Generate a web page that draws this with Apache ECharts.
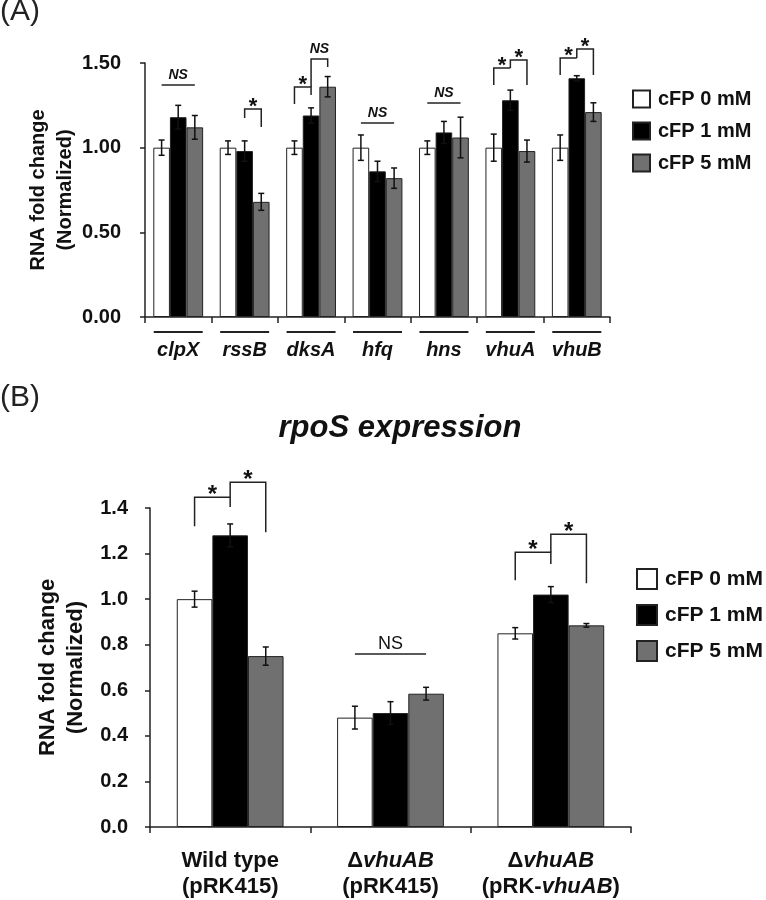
<!DOCTYPE html>
<html>
<head>
<meta charset="utf-8">
<title>rpoS expression</title>
<script src="https://cdn.jsdelivr.net/npm/echarts@6/dist/echarts.min.js"></script>
<style>
  html, body { margin: 0; padding: 0; background: #fff; }
  #main { width: 766px; height: 900px; }
</style>
</head>
<body>
<div id="main"></div>
<script>
// ---- panel A data ----
var genes = ['clpX', 'rssB', 'dksA', 'hfq', 'hns', 'vhuA', 'vhuB'];
var a0 = [1.00, 1.00, 1.00, 1.00, 1.00, 1.00, 1.00];
var a0err = [0.045, 0.04, 0.04, 0.075, 0.04, 0.08, 0.075];
var a1 = [1.18, 0.98, 1.19, 0.86, 1.09, 1.28, 1.41];
var a1err = [0.07, 0.06, 0.045, 0.06, 0.065, 0.06, 0.015];
var a2 = [1.12, 0.68, 1.36, 0.82, 1.06, 0.98, 1.21];
var a2err = [0.07, 0.05, 0.06, 0.06, 0.12, 0.065, 0.055];

// ---- panel B data ----
var strains = ['wt', 'dvhuAB', 'comp'];
var b0 = [1.00, 0.48, 0.85];
var b0err = [0.035, 0.05, 0.025];
var b1 = [1.28, 0.50, 1.02];
var b1err = [0.05, 0.05, 0.035];
var b2 = [0.75, 0.585, 0.885];
var b2err = [0.04, 0.028, 0.008];

var doses = ['cFP 0 mM', 'cFP 1 mM', 'cFP 5 mM'];

// significance marks: [category, from bar, to bar, left foot, top, right foot]
var bracketsA = [
  [0, 0, 2, 1.37, 1.37, 1.37],
  [1, 1, 2, 1.175, 1.229, 1.122],
  [2, 0, 1, 1.258, 1.358, 1.311],
  [2, 1, 2, 1.358, 1.524, 1.477],
  [3, 0, 2, 1.146, 1.146, 1.146],
  [4, 0, 2, 1.264, 1.264, 1.264],
  [5, 0, 1, 1.37, 1.471, 1.471],
  [5, 1, 2, 1.471, 1.518, 1.37],
  [6, 0, 1, 1.429, 1.53, 1.53],
  [6, 1, 2, 1.53, 1.583, 1.429]
];
var marksA = ['NS', '*', '*', 'NS', 'NS', 'NS', '*', '*', '*', '*'];

var bracketsB = [
  [0, 0, 1, 1.32, 1.447, 1.404],
  [0, 1, 2, 1.447, 1.513, 1.294],
  [1, 0, 2, 0.759, 0.759, 0.759],
  [2, 0, 1, 1.083, 1.206, 1.154],
  [2, 1, 2, 1.206, 1.285, 1.07]
];
var marksB = ['*', '*', 'NS', '*', '*'];

var FONT = 'Liberation Sans, Arial, sans-serif';
var colors = ['#ffffff', '#000000', '#707070'];
var fracA = 0.25, fracB = 0.222;

function errData(vals, errs, k) {
  return vals.map(function (v, i) { return [i, v, errs[i], k]; });
}

function errRender(frac) {
  return function (params, api) {
    var c = api.value(0), v = api.value(1), e = api.value(2), k = api.value(3);
    var w = api.size([1, 0])[0];
    var x = api.coord([c, v])[0] + (k - 1) * w * frac;
    var yt = api.coord([c, v + e])[1];
    var yb = api.coord([c, v - e])[1];
    var st = { stroke: '#111', lineWidth: 1.5 };
    return {
      type: 'group',
      children: [
        { type: 'line', shape: { x1: x, y1: yt, x2: x, y2: yb }, style: st },
        { type: 'line', shape: { x1: x - 3, y1: yt, x2: x + 3, y2: yt }, style: st },
        { type: 'line', shape: { x1: x - 3, y1: yb, x2: x + 3, y2: yb }, style: st }
      ]
    };
  };
}

function bracketRender(frac, marks, nsFont, starFont) {
  return function (params, api) {
    var c = api.value(0), bl = api.value(1), br = api.value(2);
    var w = api.size([1, 0])[0];
    var xc = api.coord([c, 0])[0];
    var xl = xc + (bl - 1) * w * frac;
    var xr = xc + (br - 1) * w * frac;
    var yl = api.coord([c, api.value(3)])[1];
    var yt = api.coord([c, api.value(4)])[1];
    var yr = api.coord([c, api.value(5)])[1];
    var m = marks[params.dataIndex];
    var isStar = m === '*';
    return {
      type: 'group',
      children: [
        {
          type: 'polyline',
          shape: { points: [[xl, yl], [xl, yt], [xr, yt], [xr, yr]] },
          style: { stroke: '#222', lineWidth: 1.5, fill: null }
        },
        {
          type: 'text',
          x: (xl + xr) / 2,
          y: isStar ? yt - 2 : yt - 10,
          style: {
            text: m,
            align: 'center',
            verticalAlign: 'middle',
            font: isStar ? starFont : nsFont,
            fill: '#111'
          }
        }
      ]
    };
  };
}

function barSeries(name, data, color, xi) {
  return {
    name: name,
    type: 'bar',
    xAxisIndex: xi,
    yAxisIndex: xi,
    data: data,
    barWidth: xi === 0 ? '25%' : '22.2%',
    barGap: '0%',
    itemStyle: { color: color, borderColor: '#222', borderWidth: 1 },
    emphasis: { disabled: true }
  };
}

var chart = echarts.init(document.getElementById('main'), null, { renderer: 'canvas' });

var option = {
  animation: false,
  backgroundColor: '#fff',
  textStyle: { fontFamily: FONT, color: '#111' },
  graphic: [
    { type: 'text', left: 0, top: -3, style: { text: '(A)', font: '30px ' + FONT, fill: '#222' } },
    { type: 'text', left: 0, top: 383, style: { text: '(B)', font: '30px ' + FONT, fill: '#222' } },
    { type: 'text', x: 400, y: 428, style: { text: 'rpoS expression', font: 'italic bold 31px ' + FONT, fill: '#111', align: 'center', verticalAlign: 'middle' } }
  ],
  legend: [
    {
      data: doses, orient: 'vertical', left: 627, top: 84,
      itemWidth: 17, itemHeight: 17, itemGap: 12, icon: 'rect',
      textStyle: { fontSize: 20, fontWeight: 'bold', lineHeight: 20, color: '#111', padding: [0, 0, 0, 3] }
    },
    {
      data: doses, orient: 'vertical', left: 631, top: 563,
      itemWidth: 20, itemHeight: 20, itemGap: 14, icon: 'rect',
      textStyle: { fontSize: 21, fontWeight: 'bold', lineHeight: 22, color: '#111', padding: [0, 0, 0, 3] }
    }
  ],
  grid: [
    { left: 145, top: 63, width: 465, height: 254 },
    { left: 150, top: 508, width: 481, height: 319 }
  ],
  xAxis: [
    {
      type: 'category', gridIndex: 0, data: genes,
      axisLine: { lineStyle: { color: '#222', width: 1.5 } },
      axisTick: { show: true, length: 6, lineStyle: { color: '#222', width: 1.5 } },
      axisLabel: {
        margin: 14,
        formatter: function (v) { return '{u|}\n{t|' + v + '}'; },
        rich: {
          u: { width: 49, height: 2, lineHeight: 2, backgroundColor: '#222' },
          t: { fontSize: 20, fontWeight: 'bold', fontStyle: 'italic', lineHeight: 34, color: '#111' }
        }
      }
    },
    {
      type: 'category', gridIndex: 1, data: strains,
      axisLine: { lineStyle: { color: '#222', width: 1.5 } },
      axisTick: { show: true, length: 6, lineStyle: { color: '#222', width: 1.5 } },
      axisLabel: {
        margin: 21,
        formatter: function (v) {
          if (v === 'wt') return '{n|Wild type}\n{n|(pRK415)}';
          if (v === 'dvhuAB') return '{n|Δ}{i|vhuAB}\n{n|(pRK415)}';
          return '{n|Δ}{i|vhuAB}\n{n|(pRK-}{i|vhuAB}{n|)}';
        },
        rich: {
          n: { fontSize: 22, fontWeight: 'bold', lineHeight: 26, color: '#111' },
          i: { fontSize: 22, fontWeight: 'bold', fontStyle: 'italic', lineHeight: 26, color: '#111' }
        }
      }
    }
  ],
  yAxis: [
    {
      type: 'value', gridIndex: 0, min: 0, max: 1.5, interval: 0.5,
      name: 'RNA fold change\n(Normalized)', nameLocation: 'middle', nameGap: 66,
      nameMoveOverlap: false,
      nameTextStyle: { fontSize: 20, fontWeight: 'bold', lineHeight: 27, color: '#111' },
      axisLine: { show: true, lineStyle: { color: '#222', width: 1.5 } },
      axisTick: { show: true, length: 5, lineStyle: { color: '#222', width: 1.5 } },
      splitLine: { show: false },
      axisLabel: {
        margin: 24, fontSize: 20, fontWeight: 'bold', color: '#111',
        formatter: function (v) { return v.toFixed(2); }
      }
    },
    {
      type: 'value', gridIndex: 1, min: 0, max: 1.4, interval: 0.2,
      name: 'RNA fold change\n(Normalized)', nameLocation: 'middle', nameGap: 60,
      nameMoveOverlap: false,
      nameTextStyle: { fontSize: 22, fontWeight: 'bold', lineHeight: 28, color: '#111' },
      axisLine: { show: true, lineStyle: { color: '#222', width: 1.5 } },
      axisTick: { show: true, length: 5, lineStyle: { color: '#222', width: 1.5 } },
      splitLine: { show: false },
      axisLabel: {
        margin: 22, fontSize: 20, fontWeight: 'bold', color: '#111',
        formatter: function (v) { return v.toFixed(1); }
      }
    }
  ],
  series: [
    barSeries(doses[0], a0, colors[0], 0),
    barSeries(doses[1], a1, colors[1], 0),
    barSeries(doses[2], a2, colors[2], 0),
    barSeries(doses[0], b0, colors[0], 1),
    barSeries(doses[1], b1, colors[1], 1),
    barSeries(doses[2], b2, colors[2], 1),
    {
      type: 'custom', xAxisIndex: 0, yAxisIndex: 0, z: 5, clip: false,
      renderItem: errRender(fracA),
      data: errData(a0, a0err, 0).concat(errData(a1, a1err, 1), errData(a2, a2err, 2))
    },
    {
      type: 'custom', xAxisIndex: 1, yAxisIndex: 1, z: 5, clip: false,
      renderItem: errRender(fracB),
      data: errData(b0, b0err, 0).concat(errData(b1, b1err, 1), errData(b2, b2err, 2))
    },
    {
      type: 'custom', xAxisIndex: 0, yAxisIndex: 0, z: 6, clip: false,
      renderItem: bracketRender(fracA, marksA, 'italic bold 14px ' + FONT, 'bold 22px ' + FONT),
      data: bracketsA
    },
    {
      type: 'custom', xAxisIndex: 1, yAxisIndex: 1, z: 6, clip: false,
      renderItem: bracketRender(fracB, marksB, '18px ' + FONT, 'bold 24px ' + FONT),
      data: bracketsB
    }
  ]
};

chart.setOption(option);
</script>
</body>
</html>
